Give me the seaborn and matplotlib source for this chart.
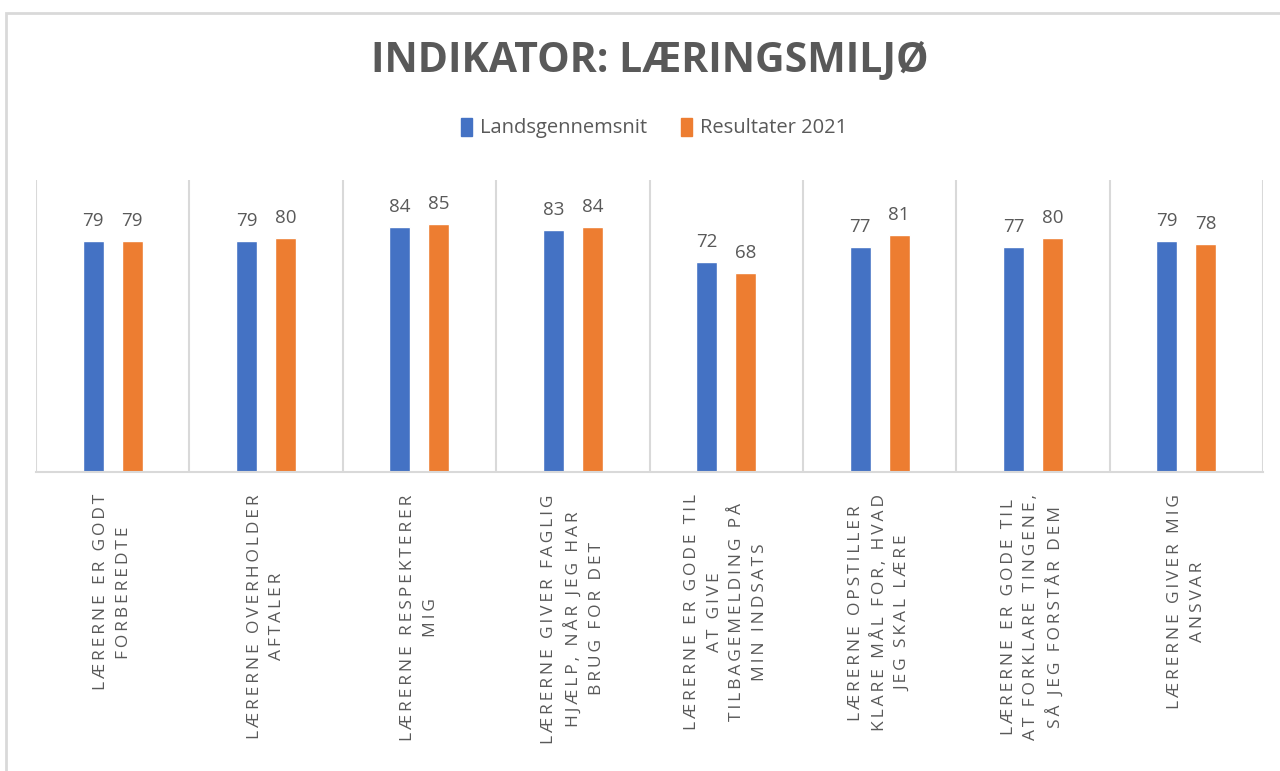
import matplotlib
matplotlib.use("Agg")
import matplotlib.pyplot as plt
import seaborn as sns
import pandas as pd
from matplotlib.patches import Rectangle

categories = [
    "LÆRERNE ER GODT\nFORBEREDTE",
    "LÆRERNE OVERHOLDER\nAFTALER",
    "LÆRERNE RESPEKTERER\nMIG",
    "LÆRERNE GIVER FAGLIG\nHJÆLP, NÅR JEG HAR\nBRUG FOR DET",
    "LÆRERNE ER GODE TIL\nAT GIVE\nTILBAGEMELDING PÅ\nMIN INDSATS",
    "LÆRERNE OPSTILLER\nKLARE MÅL FOR, HVAD\nJEG SKAL LÆRE",
    "LÆRERNE ER GODE TIL\nAT FORKLARE TINGENE,\nSÅ JEG FORSTÅR DEM",
    "LÆRERNE GIVER MIG\nANSVAR",
]
landsgennemsnit = [79, 79, 84, 83, 72, 77, 77, 79]
resultater_2021 = [79, 80, 85, 84, 68, 81, 80, 78]
series_names = ["Landsgennemsnit", "Resultater 2021"]
title_text = "INDIKATOR: LÆRINGSMILJØ"

BLUE = "#4472C4"
ORANGE = "#ED7D31"
GRAY_TXT = "#595959"
GRID = "#D9D9D9"

sns.set_theme(style="white")
plt.rcParams["font.family"] = ["Open Sans", "DejaVu Sans"]

rows = []
for i, c in enumerate(categories):
    rows.append({"cat": c, "serie": series_names[0], "val": landsgennemsnit[i]})
    rows.append({"cat": c, "serie": series_names[1], "val": resultater_2021[i]})
df = pd.DataFrame(rows)

fig = plt.figure(figsize=(12.8, 7.71), dpi=100)
ax = fig.add_axes([36 / 1280, 1 - 472 / 771, (1263 - 36) / 1280, (472 - 180) / 771])

sns.barplot(data=df, x="cat", y="val", hue="serie", order=categories,
            hue_order=series_names, palette=[BLUE, ORANGE],
            width=0.508, gap=0.46, ax=ax, legend=False, saturation=1,
            errorbar=None)

ax.set_ylim(0, 100)
ax.set_xlim(-0.5, len(categories) - 0.5)
for s in ["top", "right", "left"]:
    ax.spines[s].set_visible(False)
ax.spines["bottom"].set_color(GRID)
ax.spines["bottom"].set_linewidth(1.5)
ax.set_yticks([])
ax.set_xlabel("")
ax.set_ylabel("")

for b in range(len(categories) + 1):
    ax.axvline(b - 0.5, color=GRID, lw=1.5, zorder=0)

for cont in ax.containers:
    ax.bar_label(cont, padding=8, fontsize=13.5, color=GRAY_TXT)

SEP = "\u2009"

def spaced(s):
    out = []
    for line in s.split("\n"):
        words = line.split(" ")
        out.append((SEP + " " + SEP).join(SEP.join(list(w)) for w in words))
    return "\n".join(out)

ax.set_xticks(range(len(categories)))
ax.set_xticklabels([spaced(c) for c in categories], rotation=90,
                   ha="center", va="top", multialignment="center",
                   fontsize=12.5, color=GRAY_TXT, linespacing=1.55)
ax.tick_params(axis="x", length=0, pad=16)

fig.text(0.5 + 10 / 1280, 1 - 61 / 771, title_text, ha="center", va="center",
         fontsize=29.5, fontweight="bold", color=GRAY_TXT,
         family=["Open Sans", "DejaVu Sans"])

handles = [Rectangle((0, 0), 1, 1, color=BLUE), Rectangle((0, 0), 1, 1, color=ORANGE)]
fig.legend(handles, series_names, loc="center",
           bbox_to_anchor=(0.5 + 14 / 1280, 1 - 128 / 771),
           ncol=2, frameon=False, fontsize=14.5, handlelength=0.55, handleheight=1.0,
           handletextpad=0.4, columnspacing=1.7, labelcolor=GRAY_TXT)

# outer chart border
fig.add_artist(Rectangle((6 / 1280, -0.1), 1.2, 1 - 13 / 771 + 0.1,
                         transform=fig.transFigure, fill=False,
                         edgecolor=GRID, lw=2))

fig.savefig("out.png", dpi=100)
